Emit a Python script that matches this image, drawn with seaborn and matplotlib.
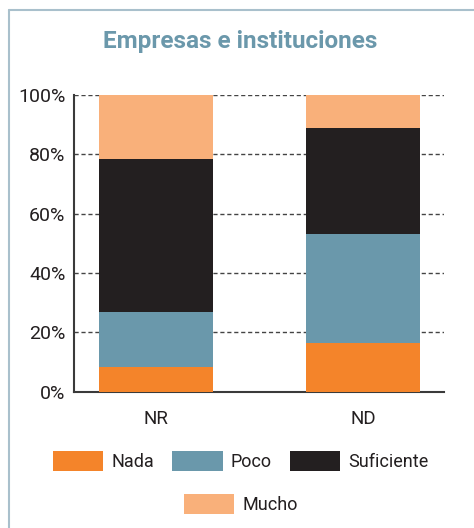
import pandas as pd
import matplotlib.pyplot as plt
import matplotlib.patches as mpatches
import seaborn as sns

# data (percentages)
groups = ["NR", "ND"]
levels = ["Nada", "Poco", "Suficiente", "Mucho"]
nada = [8.4, 16.4]
poco = [18.5, 36.7]
suficiente = [51.5, 35.9]
mucho = [21.6, 11.0]
colors = ["#f4842a", "#6a98ab", "#231f20", "#f9b07a"]
yticks = [0, 20, 40, 60, 80, 100]

df = pd.DataFrame({"grupo": groups, "Nada": nada, "Poco": poco,
                   "Suficiente": suficiente, "Mucho": mucho})
cum = df[levels].cumsum(axis=1)
cum["grupo"] = df["grupo"]

sns.set_style("white")
plt.rcParams["font.family"] = ["Roboto", "DejaVu Sans"]

fig = plt.figure(figsize=(4.74, 5.28), dpi=100)
ax = fig.add_axes([0.156, 0.258, 0.781, 0.562])

# stacked bars: draw the tallest cumulative first
for lev, col in reversed(list(zip(levels, colors))):
    sns.barplot(data=cum, x="grupo", y=lev, color=col, width=0.55,
                saturation=1, linewidth=0, ax=ax, zorder=3)

ax.set_xlim(-0.396, 1.39)
ax.set_ylim(0, 100)
ax.set_yticks(yticks)
ax.set_yticklabels([f"{t}%" for t in yticks])
ax.set_xlabel("")
ax.set_ylabel("")
for t in yticks[1:]:
    ax.axhline(t, color="#444444", lw=1, ls=(0, (3, 2)), zorder=1)

for s in ["top", "right"]:
    ax.spines[s].set_visible(False)
for s in ["left", "bottom"]:
    ax.spines[s].set_color("#3a3a3a")
    ax.spines[s].set_linewidth(1.5)
ax.tick_params(axis="y", length=0, pad=6, labelsize=14, labelcolor="#231f20")
ax.tick_params(axis="x", length=0, pad=13, labelsize=13.5, labelcolor="#231f20")
ax.set_xticks([1.39], minor=True)
ax.tick_params(axis="x", which="minor", direction="in", length=18,
               width=1.5, color="#3a3a3a")

fig.text(0.506, 0.921, "Empresas e instituciones", ha="center", va="center",
         fontsize=17.5, fontweight="bold", color="#6b98ab")

handles = [mpatches.Patch(color=c, label=l, linewidth=0) for l, c in zip(levels, colors)]
leg_kw = dict(frameon=False, handlelength=2.8, handleheight=1.3,
              handletextpad=0.45, columnspacing=1.0, borderpad=0,
              prop={"size": 13})
leg1 = fig.legend(handles=handles[:3], ncol=3, loc="center",
                  bbox_to_anchor=(0.508, 0.127), **leg_kw)
for t in leg1.get_texts():
    t.set_color("#231f20")
leg2 = fig.legend(handles=handles[3:], ncol=1, loc="center",
                  bbox_to_anchor=(0.508, 0.045), **leg_kw)
for t in leg2.get_texts():
    t.set_color("#231f20")

# frame of the panel (top and left edges)
fig.add_artist(plt.Line2D([0.019, 1.0], [0.982, 0.982], color="#a9c0cc", lw=1.5,
                          transform=fig.transFigure))
fig.add_artist(plt.Line2D([0.019, 0.019], [0.0, 0.982], color="#a9c0cc", lw=1.5,
                          transform=fig.transFigure))

fig.savefig("out.png", dpi=100)
